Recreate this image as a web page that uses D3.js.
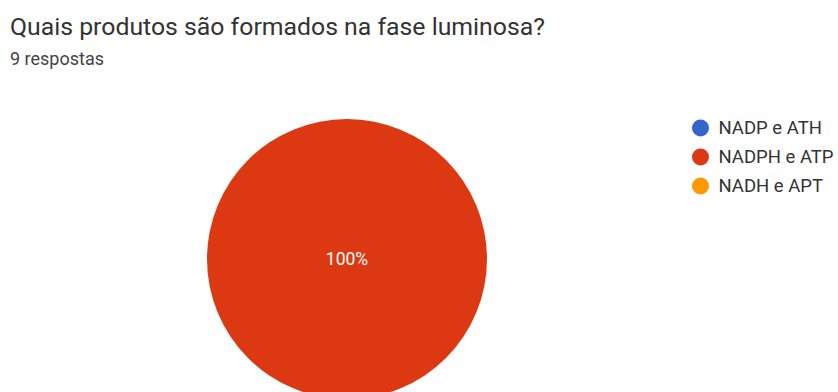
<!DOCTYPE html>
<html>
<head>
<meta charset="utf-8">
<script src="https://cdn.jsdelivr.net/npm/d3@7"></script>
<style>
  body { margin: 0; background: #fff; }
  svg { display: block; font-family: Roboto, "Noto Sans", sans-serif; }
</style>
</head>
<body>
<div id="chart"></div>
<script>
// Dados
const categorias = ["NADP e ATH", "NADPH e ATP", "NADH e APT"];
const respostas = [0, 9, 0];
const cores = ["#3366cc", "#dc3912", "#ff9900"];
const titulo = "Quais produtos são formados na fase luminosa?";
const subtitulo = "9 respostas";

const width = 838, height = 392;

const svg = d3.select("#chart")
  .append("svg")
  .attr("width", width)
  .attr("height", height);

// Título
svg.append("text")
  .attr("x", 10)
  .attr("y", 35)
  .attr("font-size", 24.8)
  .attr("fill", "#333")
  .text(titulo);

svg.append("text")
  .attr("x", 10)
  .attr("y", 65)
  .attr("font-size", 18)
  .attr("fill", "#444")
  .text(subtitulo);

// Pizza
const cx = 347, cy = 259, raio = 140;
const total = d3.sum(respostas);

const pie = d3.pie().sort(null).value(d => d.valor);
const arco = d3.arc().innerRadius(0).outerRadius(raio);

const dados = categorias.map((c, i) => ({ nome: c, valor: respostas[i], cor: cores[i] }));

const g = svg.append("g").attr("transform", "translate(" + cx + "," + cy + ")");

const fatias = pie(dados).filter(d => d.data.valor > 0);

g.selectAll("path")
  .data(fatias)
  .join("path")
  .attr("d", arco)
  .attr("fill", d => d.data.cor);

g.selectAll("text")
  .data(fatias)
  .join("text")
  .attr("transform", d => {
    // fatia única ocupa o círculo inteiro: rótulo no centro
    if (d.data.valor === total) return "translate(0,0)";
    return "translate(" + arco.centroid(d) + ")";
  })
  .attr("text-anchor", "middle")
  .attr("dy", "0.35em")
  .attr("font-size", 17.5)
  .attr("fill", "#fff")
  .text(d => Math.round(d.data.valor / total * 100) + "%");

// Legenda
const legenda = svg.append("g").attr("transform", "translate(700.5,128)");

const itens = legenda.selectAll("g")
  .data(dados)
  .join("g")
  .attr("transform", (d, i) => "translate(0," + i * 29 + ")");

itens.append("circle")
  .attr("r", 8.5)
  .attr("fill", d => d.cor);

itens.append("text")
  .attr("x", 18)
  .attr("dy", "0.35em")
  .attr("font-size", 18.5)
  .attr("fill", "#333")
  .text(d => d.nome);
</script>
</body>
</html>
